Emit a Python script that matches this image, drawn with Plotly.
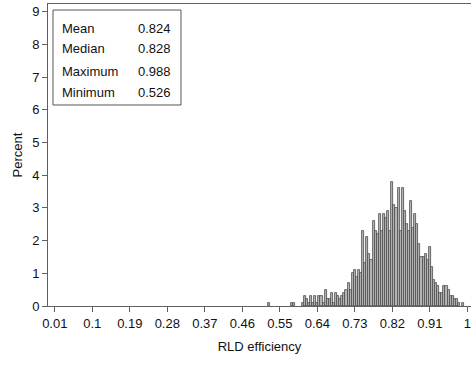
import plotly.graph_objects as go

# Bin midpoints (width 0.005) and percent of observations
bin_mid = [0.525, 0.58, 0.585,
           0.605, 0.61, 0.615, 0.62, 0.625, 0.63, 0.635, 0.64, 0.645, 0.65, 0.655, 0.66,
           0.665, 0.67, 0.675, 0.68, 0.685, 0.69, 0.695, 0.70, 0.705, 0.71, 0.715, 0.72,
           0.725, 0.73, 0.735, 0.74, 0.745,
           0.75, 0.755, 0.76, 0.765, 0.77,
           0.775, 0.78, 0.785, 0.79, 0.795, 0.80, 0.805, 0.81, 0.815,
           0.82, 0.825, 0.83, 0.835, 0.84, 0.845, 0.85, 0.855, 0.86,
           0.865, 0.87, 0.875, 0.88, 0.885, 0.89, 0.895, 0.90, 0.905, 0.91, 0.915,
           0.92, 0.925, 0.93, 0.935, 0.94, 0.945, 0.95, 0.955, 0.96, 0.965, 0.97, 0.975, 0.98, 0.99]
percent = [0.1, 0.1, 0.1,
           0.1, 0.3, 0.2, 0.1, 0.3, 0.1, 0.3, 0.1, 0.3, 0.3, 0.1, 0.5,
           0.2, 0.2, 0.4, 0.1, 0.4, 0.3, 0.2, 0.3, 0.4, 0.5, 0.7, 0.5,
           1.0, 1.1, 0.9, 1.1, 1.0,
           2.3, 1.3, 2.1, 1.6, 1.4,
           2.6, 2.3, 2.2, 2.8, 2.3, 2.8, 2.7, 2.9, 2.3,
           3.8, 3.1, 3.0, 3.6, 2.3, 3.6, 2.9, 2.5, 2.3,
           3.2, 2.4, 2.8, 2.5, 1.9, 1.5, 1.5, 1.6, 1.4, 1.8, 1.2,
           0.8, 0.7, 0.6, 0.4, 0.4, 0.6, 0.6, 0.5, 0.3, 0.3, 0.2, 0.2, 0.1, 0.1]
bin_width = 0.005

x_tick_vals = [0.01, 0.10, 0.19, 0.28, 0.37, 0.46, 0.55, 0.64, 0.73, 0.82, 0.91, 1.00]
x_tick_text = ["0.01", "0.1", "0.19", "0.28", "0.37", "0.46", "0.55", "0.64", "0.73", "0.82", "0.91", "1"]
y_tick_vals = [0, 1, 2, 3, 4, 5, 6, 7, 8, 9]

stat_names = ["Mean", "Median", "Maximum", "Minimum"]
stat_values = ["0.824", "0.828", "0.988", "0.526"]

FONT = "Liberation Sans, Arial, sans-serif"
AXIS_COLOR = "#606060"

fig = go.Figure()
fig.add_trace(go.Bar(
    x=bin_mid, y=percent, width=bin_width,
    marker=dict(color="#b8b8b8", line=dict(color="#4a4a4a", width=0.8)),
    hoverinfo="x+y",
))

fig.update_layout(
    width=471, height=367,
    margin=dict(l=48, r=0, t=4, b=61),
    paper_bgcolor="white", plot_bgcolor="white",
    showlegend=False, bargap=0,
    font=dict(family=FONT, size=13, color="#111111"),
)
fig.update_xaxes(
    range=[-0.0063, 1.0088],
    tickmode="array", tickvals=x_tick_vals, ticktext=x_tick_text,
    ticks="outside", ticklen=5, tickcolor=AXIS_COLOR, tickwidth=1,
    showline=True, linecolor=AXIS_COLOR, linewidth=1, mirror=True,
    showgrid=False, zeroline=False,
    title=dict(text="RLD efficiency", standoff=12, font=dict(size=13)),
    tickfont=dict(size=13),
)
fig.update_yaxes(
    range=[0, 9.235],
    tickmode="array", tickvals=y_tick_vals,
    ticks="outside", ticklen=5, tickcolor=AXIS_COLOR, tickwidth=1,
    showline=True, linecolor=AXIS_COLOR, linewidth=1,
    showgrid=False, zeroline=False,
    title=dict(text="Percent", standoff=6, font=dict(size=13)),
    tickfont=dict(size=13),
)

# Statistics inset box
fig.add_shape(type="rect", xref="paper", yref="paper",
              x0=0.0118, x1=0.3144, y0=0.6656, y1=0.980,
              line=dict(color="#555555", width=1), fillcolor="white")
row_y = [0.9205, 0.851, 0.778, 0.7086]
for name, val, yy in zip(stat_names, stat_values, row_y):
    fig.add_annotation(xref="paper", yref="paper", x=0.0284, y=yy, text=name,
                       showarrow=False, xanchor="left", yanchor="middle",
                       font=dict(size=13, family=FONT, color="#111111"))
    fig.add_annotation(xref="paper", yref="paper", x=0.2955, y=yy, text=val,
                       showarrow=False, xanchor="right", yanchor="middle",
                       font=dict(size=13, family=FONT, color="#111111"))

fig.write_html("out.html")
